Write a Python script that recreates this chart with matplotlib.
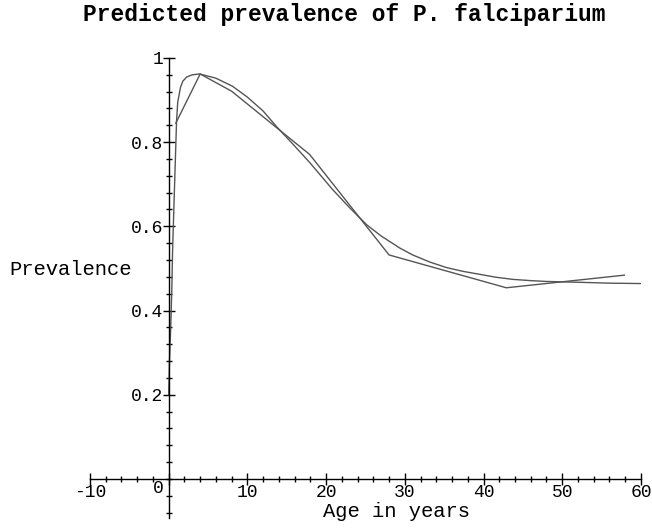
import matplotlib.pyplot as plt
import matplotlib.transforms as mtransforms
import numpy as np

# observed prevalence by age group
obs_age = [0.9, 4.0, 8.0, 17.9, 28.0, 42.9, 57.9]
obs_prev = [0.845, 0.962, 0.921, 0.771, 0.532, 0.454, 0.484]

# fitted curve
fit_age = [0.0, 0.1, 0.25, 0.4, 0.5, 0.76, 1.0, 1.15, 1.5, 1.8, 2.3, 3.0, 3.94,
           6.0, 8.1, 10.0, 12.0, 13.7, 15.8, 17.9, 20.8, 23.0, 25.2, 27.0,
           29.4, 31.0, 33.2, 35.3, 37.4, 39.5, 41.6, 43.7, 46.0, 48.0, 52.2, 56.0, 60.1]
fit_prev = [0.2, 0.28, 0.355, 0.45, 0.545, 0.705, 0.85, 0.895, 0.93, 0.945, 0.955, 0.96, 0.962,
            0.952, 0.933, 0.907, 0.874, 0.837, 0.795, 0.752, 0.688, 0.644, 0.603, 0.577,
            0.548, 0.532, 0.515, 0.502, 0.493, 0.486, 0.479, 0.474, 0.471, 0.469, 0.467, 0.465, 0.464]

xticks = [-10, 0, 10, 20, 30, 40, 50, 60]
yticks = [0.2, 0.4, 0.6, 0.8, 1.0]
ytick_labels = ['0.2', '0.4', '0.6', '0.8', '1']

plt.rcParams['font.family'] = ['Liberation Mono', 'DejaVu Sans Mono']

fig = plt.figure(figsize=(6.52, 5.31), dpi=100)
ax = fig.add_axes([0.138, 0.0245, 0.845, 0.8663])

ax.plot(obs_age, obs_prev, color='#555555', lw=1.0)
ax.plot(fit_age, fit_prev, color='#555555', lw=1.0)

ax.set_xlim(-10, 60)
ax.set_ylim(-0.093, 1.0)

ax.spines['left'].set_position(('data', 0))
ax.spines['bottom'].set_position(('data', 0))
ax.spines['top'].set_visible(False)
ax.spines['right'].set_visible(False)
for s in ['left', 'bottom']:
    ax.spines[s].set_linewidth(1.0)
    ax.spines[s].set_color('black')

ax.set_xticks(xticks)
ax.set_xticklabels([str(t) for t in xticks])
ax.set_xticks(np.arange(-10, 61, 2), minor=True)
ax.set_yticks(yticks)
ax.set_yticklabels(ytick_labels)
ax.set_yticks(np.arange(-0.08, 1.001, 0.04), minor=True)

ax.tick_params(which='major', direction='inout', length=8, width=1, labelsize=13, pad=0)
ax.tick_params(which='minor', direction='inout', length=5, width=1)

# nudge the "0" label left and up, away from the y axis
for lab in ax.get_xticklabels():
    if lab.get_text() == '0':
        off = mtransforms.ScaledTranslation(-10 / 100, 4 / 100, fig.dpi_scale_trans)
        lab.set_transform(lab.get_transform() + off)

fig.text(0.608, 0.036, 'Age in years', ha='center', va='center', fontsize=14.8)
fig.text(0.109, 0.493, 'Prevalence', ha='center', va='center', fontsize=14.8)
fig.text(0.528, 0.972, 'Predicted prevalence of P. falciparium', ha='center', va='center',
         fontsize=16.5, fontweight='bold')

fig.savefig('out.png', dpi=100)
